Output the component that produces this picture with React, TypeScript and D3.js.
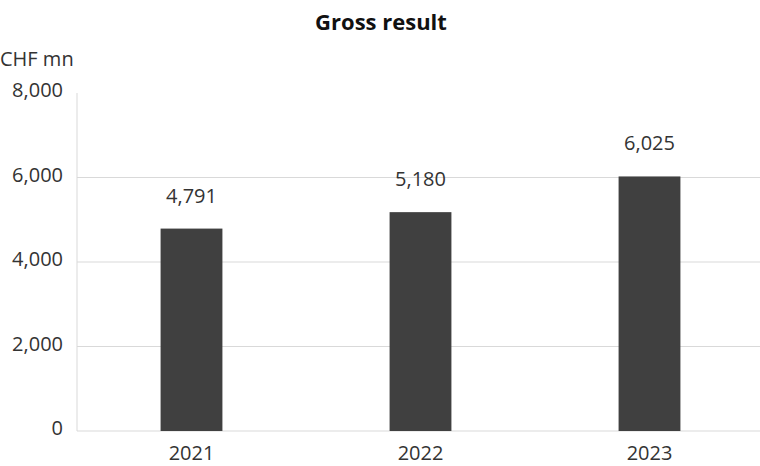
import React from "react";
import * as d3 from "d3";

const categories = ["2021", "2022", "2023"];
const values = [4791, 5180, 6025];
const yTicks = [0, 2000, 4000, 6000, 8000];

export default function App() {
  const W = 760, H = 466;
  const left = 77, right = 764, top = 93, bottom = 431;
  const x = d3.scaleBand<string>().domain(categories).range([left, right]).paddingInner(0.73).paddingOuter(0.365);
  const y = d3.scaleLinear().domain([0, 8000]).range([bottom, top]);
  const fmt = d3.format(",");
  const font = "'Open Sans', 'DejaVu Sans', sans-serif";
  return (
    <svg width={W} height={H} style={{ position: "absolute", left: 0, top: 0 }} fontFamily={font}>
      <text x={381} y={30} textAnchor="middle" fontWeight="bold" fontSize={22} fill="#111">Gross result</text>
      <text x={0} y={66} fontSize={20} fill="#333">CHF mn</text>
      {yTicks.map((t) => (
        <g key={t}>
          {t > 0 && t < 8000 && <line x1={left} x2={W} y1={y(t)} y2={y(t)} stroke="#d9d9d9" strokeWidth={1} />}
          <text x={63} y={y(t) + 4} textAnchor="end" fontSize={20} fill="#333">{fmt(t)}</text>
        </g>
      ))}
      <line x1={left} x2={left} y1={top} y2={bottom} stroke="#d9d9d9" />
      <line x1={left} x2={W} y1={bottom} y2={bottom} stroke="#d9d9d9" />
      {categories.map((c, i) => (
        <g key={c}>
          <rect x={x(c)} y={y(values[i])} width={x.bandwidth()} height={bottom - y(values[i])} fill="#404040" />
          <text x={x(c)! + x.bandwidth() / 2} y={y(values[i]) - 26} textAnchor="middle" fontSize={20} fill="#333">{fmt(values[i])}</text>
          <text x={x(c)! + x.bandwidth() / 2} y={460} textAnchor="middle" fontSize={20} fill="#333">{c}</text>
        </g>
      ))}
    </svg>
  );
}
